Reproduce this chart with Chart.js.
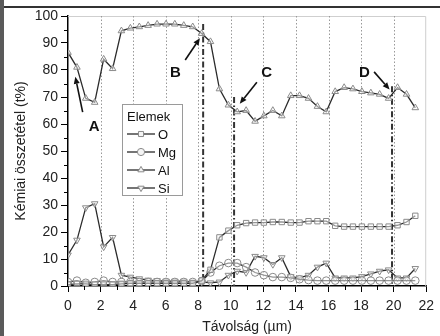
<!DOCTYPE html>
<html>
<head>
<meta charset="utf-8">
<script src="https://cdn.jsdelivr.net/npm/chart.js@4.4.0/dist/chart.umd.min.js"></script>
<style>
  html, body { margin: 0; padding: 0; background: #fff; }
  #wrap { position: relative; width: 440px; height: 336px; overflow: hidden; }
  #frameTop { position: absolute; left: 0; top: 6px; width: 440px; height: 2px; background: #333; }
  #frameLeft { position: absolute; left: 0; top: 0; width: 4px; height: 336px; background: #5a5a5a; }
  canvas { position: absolute; left: 0; top: 0; }
</style>
</head>
<body>
<div id="wrap">
  <canvas id="chart" width="440" height="336"></canvas>
  <div id="frameTop"></div>
  <div id="frameLeft"></div>
</div>
<script>
// distance along the line scan (µm)
const distance = [0, 0.55, 1.09, 1.64, 2.19, 2.74, 3.28, 3.83, 4.38, 4.92,
  5.47, 6.02, 6.56, 7.11, 7.66, 8.21, 8.75, 9.3, 9.85, 10.39,
  10.94, 11.49, 12.03, 12.58, 13.13, 13.68, 14.22, 14.77, 15.32, 15.86,
  16.41, 16.96, 17.5, 18.05, 18.6, 19.14, 19.69, 20.24, 20.79, 21.33];

const oxygen = [0.5, 0.8, 0.8, 0.5, 0.5, 0.5, 0.8, 1, 1, 1,
  1, 1, 1, 1, 1, 2, 6, 18, 20.5, 22.5,
  23.3, 23.5, 23.5, 23.7, 23.7, 23.5, 23.5, 24, 24, 24,
  22.3, 22, 22, 22, 22, 22, 22, 22.5, 23.7, 26];

const magnesium = [1.5, 2, 1.2, 1.5, 2, 1.5, 1.5, 1.5, 1.5, 1.5,
  1.5, 1.5, 1.5, 1.5, 1.5, 1.8, 5, 7.5, 8.5, 8.5,
  7, 5, 4, 3.3, 3.3, 3, 2.5, 2.2, 2, 2,
  2, 2, 2, 2, 2, 2, 2, 2, 2, 2];

const aluminium = [86.5, 81, 69.5, 68, 84, 80.5, 94.5, 95.5, 96, 96.5,
  97, 97, 97, 96.5, 96, 93.5, 90.5, 73, 67, 64.5,
  65, 61, 63, 65, 63, 70.5, 70.5, 69.5, 66.5, 64.5,
  72, 73.5, 73, 72, 71.5, 71, 69.5, 73.5, 71, 66];

const silicon = [11.5, 17, 29, 30.5, 14.5, 18, 4, 3.3, 2.7, 2.2,
  2, 1.8, 1.8, 1.8, 1.5, 1.5, 1.2, 1.5, 4, 5.5,
  5, 11, 10.5, 8, 10.5, 3.5, 3, 4, 7, 8.5,
  3, 3, 3, 3.5, 4.5, 5.5, 6, 3, 3, 6.5];

const elementNames = ['O', 'Mg', 'Al', 'Si'];
const markerStyles = ['rect', 'circle', 'triangle', 'triangle'];
const markerRotation = [0, 0, 0, 180];

// boundary lines (µm) and their letters
const boundaryX = [8.3, 10.2, 19.9];
const boundaryTop = [97, 70, 74];
const letters = ['A', 'B', 'C', 'D'];

const FONT = "'Liberation Sans', Arial, sans-serif";
const series = [oxygen, magnesium, aluminium, silicon];

const datasets = series.map((vals, i) => ({
  label: elementNames[i],
  data: distance.map((d, j) => ({ x: d, y: vals[j] })),
  borderColor: '#2b2b2b',
  borderWidth: 1.3,
  pointStyle: markerStyles[i],
  rotation: markerRotation[i],
  pointRadius: 3.8,
  pointBackgroundColor: 'rgba(255,255,255,0.5)',
  pointBorderColor: '#8a8a8a',
  pointBorderWidth: 1,
  tension: 0
}));

const decor = {
  id: 'decor',
  beforeDatasetsDraw(chart) {
    const { ctx, chartArea: a, scales: { x, y } } = chart;
    ctx.save();
    // light frame top/right
    ctx.strokeStyle = '#cfcfcf';
    ctx.lineWidth = 1;
    ctx.beginPath();
    ctx.moveTo(a.left, a.top + 0.5);
    ctx.lineTo(a.right - 0.5, a.top + 0.5);
    ctx.lineTo(a.right - 0.5, a.bottom);
    ctx.stroke();
    // dotted grid
    ctx.strokeStyle = '#999';
    ctx.setLineDash([1.5, 2]);
    for (let v = 2; v <= 20; v += 2) {
      const px = Math.round(x.getPixelForValue(v)) + 0.5;
      ctx.beginPath();
      ctx.moveTo(px, a.top);
      ctx.lineTo(px, a.bottom);
      ctx.stroke();
    }
    // dash-dot boundary lines
    ctx.strokeStyle = '#333';
    ctx.lineWidth = 2;
    ctx.setLineDash([6, 2.5, 1.5, 2.5]);
    boundaryX.forEach((bx, i) => {
      const px = x.getPixelForValue(bx);
      ctx.beginPath();
      ctx.moveTo(px, y.getPixelForValue(boundaryTop[i]));
      ctx.lineTo(px, a.bottom);
      ctx.stroke();
    });
    ctx.setLineDash([]);
    // minor ticks
    ctx.strokeStyle = '#000';
    ctx.lineWidth = 1;
    for (let v = 1; v < 22; v += 2) {
      const px = Math.round(x.getPixelForValue(v)) + 0.5;
      ctx.beginPath();
      ctx.moveTo(px, a.bottom);
      ctx.lineTo(px, a.bottom + 4);
      ctx.stroke();
    }
    for (let v = 5; v < 100; v += 10) {
      const py = Math.round(y.getPixelForValue(v)) + 0.5;
      ctx.beginPath();
      ctx.moveTo(a.left, py);
      ctx.lineTo(a.left - 4, py);
      ctx.stroke();
    }
    ctx.restore();
  },
  afterDraw(chart) {
    const { ctx, scales: { x, y } } = chart;
    const P = (vx, vy) => [x.getPixelForValue(vx), y.getPixelForValue(vy)];
    ctx.save();
    // letters
    ctx.fillStyle = '#111';
    ctx.font = 'bold 15px ' + FONT;
    ctx.textAlign = 'center';
    ctx.textBaseline = 'middle';
    const letterPos = [[1.6, 59], [6.6, 79], [12.2, 79], [18.2, 79]];
    letters.forEach((t, i) => {
      const [px, py] = P(letterPos[i][0], letterPos[i][1]);
      ctx.fillText(t, px, py);
    });
    // arrows
    const arrows = [
      [[0.9, 64.4], [0.45, 77.5]],
      [[7.2, 83.7], [8.1, 91.8]],
      [[11.6, 75.5], [10.55, 67.5]],
      [[18.8, 79.3], [19.75, 72.8]]
    ];
    ctx.strokeStyle = '#111';
    ctx.lineWidth = 1.6;
    arrows.forEach(([s, e]) => {
      const [x1, y1] = P(s[0], s[1]);
      const [x2, y2] = P(e[0], e[1]);
      const ang = Math.atan2(y2 - y1, x2 - x1);
      const hl = 7, hw = 3;
      const bx = x2 - hl * Math.cos(ang), by = y2 - hl * Math.sin(ang);
      ctx.beginPath();
      ctx.moveTo(x1, y1);
      ctx.lineTo(bx, by);
      ctx.stroke();
      ctx.beginPath();
      ctx.moveTo(x2, y2);
      ctx.lineTo(bx + hw * Math.sin(ang), by - hw * Math.cos(ang));
      ctx.lineTo(bx - hw * Math.sin(ang), by + hw * Math.cos(ang));
      ctx.closePath();
      ctx.fillStyle = '#111';
      ctx.fill();
    });
    // legend box
    const lx = 122, ly = 104, lw = 60, lh = 91;
    ctx.fillStyle = '#fff';
    ctx.fillRect(lx, ly, lw, lh);
    ctx.strokeStyle = '#9a9a9a';
    ctx.lineWidth = 1;
    ctx.strokeRect(lx + 0.5, ly + 0.5, lw, lh);
    ctx.fillStyle = '#111';
    ctx.font = '13px ' + FONT;
    ctx.textAlign = 'left';
    ctx.fillText('Elemek', lx + 5, ly + 13);
    chart.data.datasets.forEach((ds, i) => {
      const yy = ly + 30 + i * 18;
      ctx.strokeStyle = ds.borderColor;
      ctx.lineWidth = 1.3;
      ctx.beginPath();
      ctx.moveTo(lx + 5, yy);
      ctx.lineTo(lx + 33, yy);
      ctx.stroke();
      ctx.fillStyle = '#f4f4f4';
      ctx.strokeStyle = '#8a8a8a';
      ctx.lineWidth = 1;
      Chart.helpers.drawPoint(ctx, {
        pointStyle: ds.pointStyle, rotation: ds.rotation, radius: 3.6, borderWidth: 1
      }, lx + 19, yy);
      ctx.fillStyle = '#111';
      ctx.fillText(ds.label, lx + 36, yy + 1);
    });
    ctx.restore();
  }
};

new Chart(document.getElementById('chart'), {
  type: 'line',
  data: { datasets },
  plugins: [decor],
  options: {
    responsive: false,
    animation: false,
    layout: { padding: { top: 16, right: 3, left: 0, bottom: 0 } },
    plugins: { legend: { display: false }, tooltip: { enabled: false } },
    scales: {
      x: {
        type: 'linear', min: 0, max: 22,
        afterFit: (s) => { s.height = 50; },
        ticks: { stepSize: 2, color: '#222', font: { size: 14, family: FONT }, padding: 6, maxRotation: 0 },
        grid: { drawOnChartArea: false, tickLength: 6, tickColor: '#000', tickWidth: 1 },
        border: { color: '#000', width: 1.5 },
        title: { display: true, text: 'Távolság (µm)', color: '#222', font: { size: 14, family: FONT }, padding: { top: 1, bottom: 0 } }
      },
      y: {
        min: 0, max: 100,
        afterFit: (s) => { s.width = 68; },
        ticks: { stepSize: 10, color: '#222', font: { size: 14, family: FONT }, padding: 3 },
        grid: { drawOnChartArea: false, tickLength: 7, tickColor: '#000', tickWidth: 1 },
        border: { color: '#000', width: 1.5 },
        title: { display: true, text: 'Kémiai összetétel (t%)', color: '#222', font: { size: 14, family: FONT }, padding: { top: 13, bottom: 4 } }
      }
    }
  }
});
</script>
</body>
</html>
